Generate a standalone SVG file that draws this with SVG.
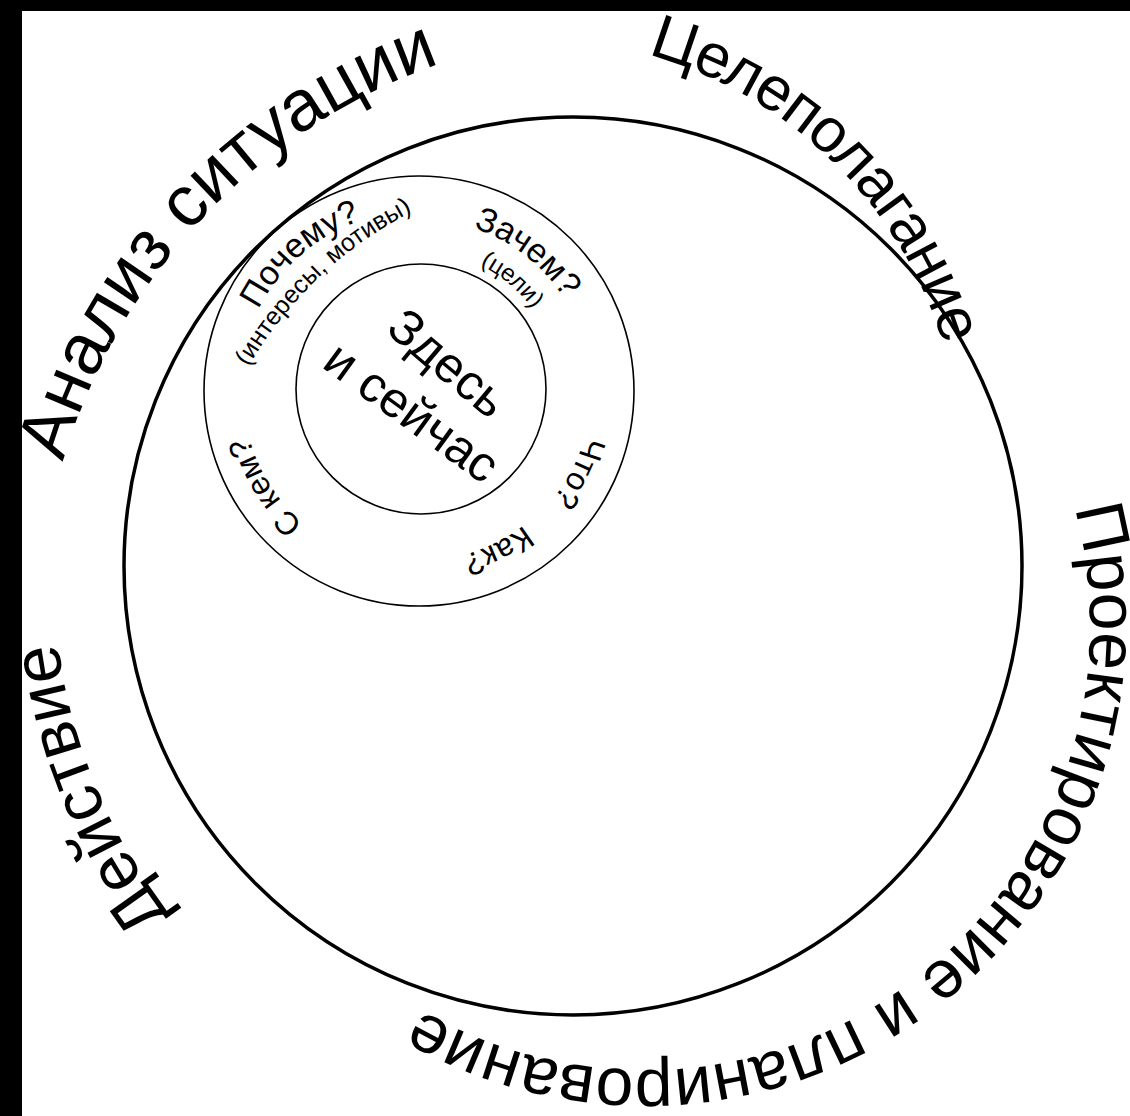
<svg xmlns="http://www.w3.org/2000/svg" xmlns:xlink="http://www.w3.org/1999/xlink" width="1130" height="1116" viewBox="0 0 1130 1116">
<style>
.ring{fill:none;stroke:#000}
.big{font-family:"Liberation Sans",Arial,sans-serif;font-size:68px;fill:#000}
.mid{font-family:"Liberation Sans",Arial,sans-serif;font-size:32px;fill:#000}
.sub{font-family:"Liberation Sans",Arial,sans-serif;font-size:25px;fill:#000}
.core{font-family:"Liberation Sans",Arial,sans-serif;font-size:50px;fill:#000}
</style>
<defs>
<path id="pA" d="M 39.4 615.6 A 600 600 0 0 1 592.2 31.3"/>
<path id="pC" d="M 526.2 38.0 A 432 432 0 0 1 962.0 466.2"/>
<path id="pP" d="M 1063.2 472.8 A 445 445 0 0 1 389.7 989.5"/>
<path id="pD" d="M 255.2 1003.6 A 566 566 0 0 1 55.1 520.7"/>
<path id="pPo" d="M 241.7 359.7 A 180 180 0 0 1 412.7 211.1"/>
<path id="pIn" d="M 240 382 A 400 400 0 0 1 428 204"/>
<path id="pZa" d="M 419 219 A 172 172 0 0 1 585.9 349.4"/>
<path id="pCe" d="M 443.3 253.1 A 140 140 0 0 1 550.6 343.1"/>
<path id="pCh" d="M 591 391 A 172 172 0 0 1 520.1 530.2"/>
<path id="pKa" d="M 558.3 488.5 A 170 170 0 0 1 413.1 560.9"/>
<path id="pSk" d="M 336.4 546.4 A 176 176 0 0 1 243.1 397.1"/>
</defs>
<rect x="0" y="0" width="1130" height="1116" fill="#fff"/>
<rect x="0" y="0" width="1130" height="11" fill="#000"/>
<rect x="0" y="0" width="22" height="1116" fill="#000"/>

<g id="outer-circle"><circle class="ring" cx="573" cy="566" r="449" stroke-width="3.5"/></g>
<g id="middle-circle"><circle class="ring" cx="419" cy="391" r="215" stroke-width="1.6"/></g>
<g id="inner-circle"><circle class="ring" cx="421" cy="389" r="125" stroke-width="1.6"/></g>

<g id="label-analiz"><text class="big" text-anchor="middle" style="font-size:72px"><textPath xlink:href="#pA" href="#pA" startOffset="50%">Анализ ситуации</textPath></text></g>
<g id="label-celepolaganie"><text class="big" text-anchor="middle" style="font-size:62px;letter-spacing:-1px"><textPath xlink:href="#pC" href="#pC" startOffset="50%">Целеполагание</textPath></text></g>
<g id="label-proekt"><text class="big" text-anchor="middle"><textPath xlink:href="#pP" href="#pP" startOffset="50%">Проектирование и планирование</textPath></text></g>
<g id="label-deistvie"><text class="big" text-anchor="middle"><textPath xlink:href="#pD" href="#pD" startOffset="50%">Действие</textPath></text></g>

<g id="label-pochemu">
<text class="mid" text-anchor="middle" style="font-size:34px"><textPath xlink:href="#pPo" href="#pPo" startOffset="50%">Почему?</textPath></text>
<text class="sub" text-anchor="middle"><textPath xlink:href="#pIn" href="#pIn" startOffset="50%">(интересы, мотивы)</textPath></text>
</g>
<g id="label-zachem">
<text class="mid" text-anchor="middle" style="font-size:34px"><textPath xlink:href="#pZa" href="#pZa" startOffset="50%">Зачем?</textPath></text>
<text class="sub" text-anchor="middle" style="font-size:24px"><textPath xlink:href="#pCe" href="#pCe" startOffset="50%">(цели)</textPath></text>
</g>
<g id="label-chto"><text class="mid" text-anchor="middle"><textPath xlink:href="#pCh" href="#pCh" startOffset="50%">Что?</textPath></text></g>
<g id="label-kak"><text class="mid" text-anchor="middle"><textPath xlink:href="#pKa" href="#pKa" startOffset="50%">Как?</textPath></text></g>
<g id="label-s-kem"><text class="mid" text-anchor="middle"><textPath xlink:href="#pSk" href="#pSk" startOffset="50%">С кем?</textPath></text></g>

<g id="label-zdes">
<text class="core" text-anchor="middle" transform="translate(448,363) rotate(40)" x="0" y="17">Здесь</text>
<text class="core" text-anchor="middle" transform="translate(412,412) rotate(36)" x="0" y="17">и сейчас</text>
</g>
</svg>
